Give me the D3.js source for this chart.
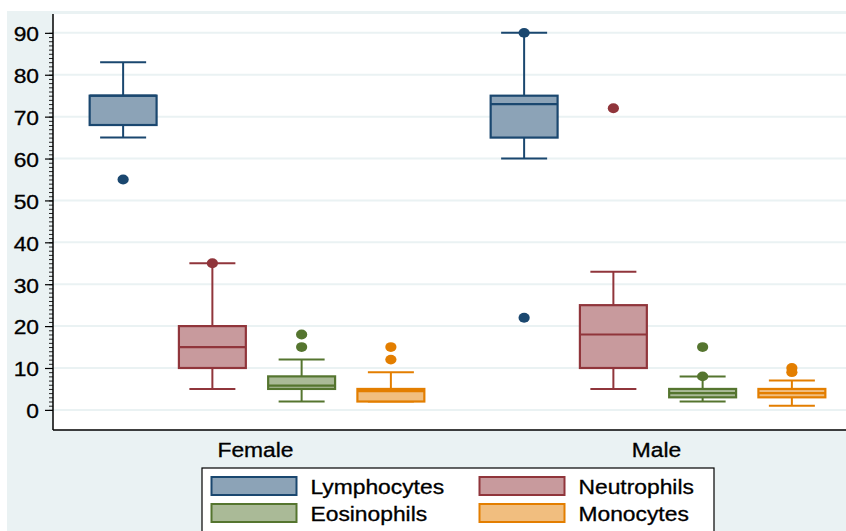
<!DOCTYPE html>
<html>
<head>
<meta charset="utf-8">
<script src="https://cdn.jsdelivr.net/npm/d3@7"></script>
<style>
  body { margin: 0; background: #fff; }
  text { font-family: "Liberation Sans", Arial, sans-serif; fill: #000; stroke: #000; stroke-width: 0.3px; }
</style>
</head>
<body>
<svg id="chart" width="846" height="531"></svg>
<script>
// groups and box series
const groups = ['Female', 'Male'];
const series = ['Lymphocytes', 'Neutrophils', 'Eosinophils', 'Monocytes'];

// box statistics, one row per group, one column per series
const lowerWhisker = [[65, 5, 2, 2], [60, 5, 2, 1]];
const quartile1 = [[68, 10, 5, 2], [65, 10, 3, 3]];
const median = [[75, 15, 5.8, 4.5], [73, 18, 4, 4]];
const quartile3 = [[75, 20, 8, 5], [75, 25, 5, 5]];
const upperWhisker = [[83, 35, 12, 9], [90, 33, 8, 7]];
const outliers = [
    [[55], [35], [15, 18], [12, 15]],
    [[90, 22], [72], [8, 15], [9, 10]]
];

const yTicks = [0, 10, 20, 30, 40, 50, 60, 70, 80, 90];

const strokeColors = ['#1a476f', '#90353b', '#55752f', '#e37e00'];
const fillColors = ['#8ca3b7', '#c89a9d', '#aaba97', '#f1be7f'];

const stretch = 1.17; // picture is a bit wider than tall

const svg = d3.select('#chart');
const plot = { left: 53, right: 846, top: 14, bottom: 430 };

// backgrounds
svg.append('rect')
    .attr('x', 7).attr('y', 11)
    .attr('width', 846 - 7).attr('height', 531 - 11)
    .attr('fill', '#eaf2f3');
svg.append('rect')
    .attr('x', plot.left).attr('y', plot.top)
    .attr('width', plot.right - plot.left).attr('height', plot.bottom - plot.top)
    .attr('fill', '#fff');

const y = d3.scaleLinear().domain([-4.8, 94.5]).range([plot.bottom, plot.top]);
const x = d3.scalePoint().domain(groups).range([257, 658]);
const inner = d3.scaleBand().domain(series).range([-178.5, 178.5]);
const boxWidth = inner.bandwidth() * 0.75;
const capWidth = 46;

// grid
svg.append('g')
    .selectAll('line')
    .data(yTicks)
    .enter().append('line')
    .attr('x1', plot.left).attr('x2', plot.right)
    .attr('y1', d => y(d)).attr('y2', d => y(d))
    .attr('stroke', '#eaf2f3')
    .attr('stroke-width', 2);

// minor ticks
svg.append('g')
    .attr('transform', `translate(${plot.left},0)`)
    .call(d3.axisLeft(y).tickValues(d3.range(0, 91, 1)).tickSize(4).tickFormat(''))
    .call(g => g.select('.domain').remove())
    .selectAll('line').attr('stroke', '#222').attr('stroke-width', 1);

// y axis
const yAxis = svg.append('g')
    .attr('transform', `translate(${plot.left},0)`)
    .call(d3.axisLeft(y).tickValues(yTicks).tickSize(8).tickPadding(6).tickSizeOuter(0));
yAxis.select('.domain').attr('d', `M0,${plot.top}V${plot.bottom}`).attr('stroke', '#000').attr('stroke-width', 1.5);
yAxis.selectAll('.tick line').attr('stroke', '#000').attr('stroke-width', 1.2);
yAxis.selectAll('.tick text')
    .attr('font-size', 19.5)
    .attr('font-family', '"Liberation Sans", Arial, sans-serif')
    .attr('fill', '#000')
    .attr('x', -14 / stretch)
    .attr('dy', '0.4em')
    .attr('transform', `scale(${stretch},1)`);

// x axis line
svg.append('line')
    .attr('x1', plot.left).attr('x2', plot.right)
    .attr('y1', plot.bottom).attr('y2', plot.bottom)
    .attr('stroke', '#000').attr('stroke-width', 1.5);

// group labels
svg.append('g')
    .selectAll('text')
    .data(groups)
    .enter().append('text')
    .attr('transform', d => `translate(${x(d) - 1.5},456.5) scale(${stretch},1)`)
    .attr('text-anchor', 'middle')
    .attr('font-size', 19.5)
    .text(d => d);

// boxes
const boxData = [];
groups.forEach((g, gi) => series.forEach((s, si) => boxData.push({
    group: g, gi, series: s, si,
    lo: lowerWhisker[gi][si], q1: quartile1[gi][si], med: median[gi][si],
    q3: quartile3[gi][si], hi: upperWhisker[gi][si], out: outliers[gi][si]
})));

const boxes = svg.append('g')
    .selectAll('g')
    .data(boxData)
    .enter().append('g')
    .attr('transform', d => `translate(${x(d.group) + inner(d.series) + inner.bandwidth() / 2},0)`);

boxes.append('line')
    .attr('y1', d => y(d.hi)).attr('y2', d => y(d.q3))
    .attr('stroke', d => strokeColors[d.si]).attr('stroke-width', 2);
boxes.append('line')
    .attr('y1', d => y(d.lo)).attr('y2', d => y(d.q1))
    .attr('stroke', d => strokeColors[d.si]).attr('stroke-width', 2);
boxes.append('line')
    .attr('x1', -capWidth / 2).attr('x2', capWidth / 2)
    .attr('y1', d => y(d.hi)).attr('y2', d => y(d.hi))
    .attr('stroke', d => strokeColors[d.si]).attr('stroke-width', 2);
boxes.append('line')
    .attr('x1', -capWidth / 2).attr('x2', capWidth / 2)
    .attr('y1', d => y(d.lo)).attr('y2', d => y(d.lo))
    .attr('stroke', d => strokeColors[d.si]).attr('stroke-width', 2);
boxes.append('rect')
    .attr('x', -boxWidth / 2).attr('width', boxWidth)
    .attr('y', d => y(d.q3)).attr('height', d => y(d.q1) - y(d.q3))
    .attr('fill', d => fillColors[d.si])
    .attr('stroke', d => strokeColors[d.si]).attr('stroke-width', 2.2);
boxes.append('line')
    .attr('x1', -boxWidth / 2).attr('x2', boxWidth / 2)
    .attr('y1', d => y(d.med)).attr('y2', d => y(d.med))
    .attr('stroke', d => strokeColors[d.si]).attr('stroke-width', 2.2);
boxes.selectAll('ellipse')
    .data(d => d.out.map(v => ({ v, si: d.si })))
    .enter().append('ellipse')
    .attr('cy', d => y(d.v))
    .attr('rx', 5.6).attr('ry', 4.9)
    .attr('fill', d => strokeColors[d.si]);

// legend
const legend = svg.append('g');
legend.append('rect')
    .attr('x', 202).attr('y', 468)
    .attr('width', 512).attr('height', 80)
    .attr('fill', '#fff').attr('stroke', '#000').attr('stroke-width', 1.2);
const items = legend.selectAll('g.item')
    .data(series)
    .enter().append('g')
    .attr('class', 'item')
    .attr('transform', (d, i) => `translate(${i % 2 ? 479.5 : 211.5},${i < 2 ? 477 : 504})`);
items.append('rect')
    .attr('width', 85).attr('height', 18)
    .attr('fill', (d, i) => fillColors[i])
    .attr('stroke', (d, i) => strokeColors[i]).attr('stroke-width', 2);
items.append('text')
    .attr('transform', `translate(99,17) scale(${stretch},1)`)
    .attr('font-size', 19.5)
    .text(d => d);
</script>
</body>
</html>
